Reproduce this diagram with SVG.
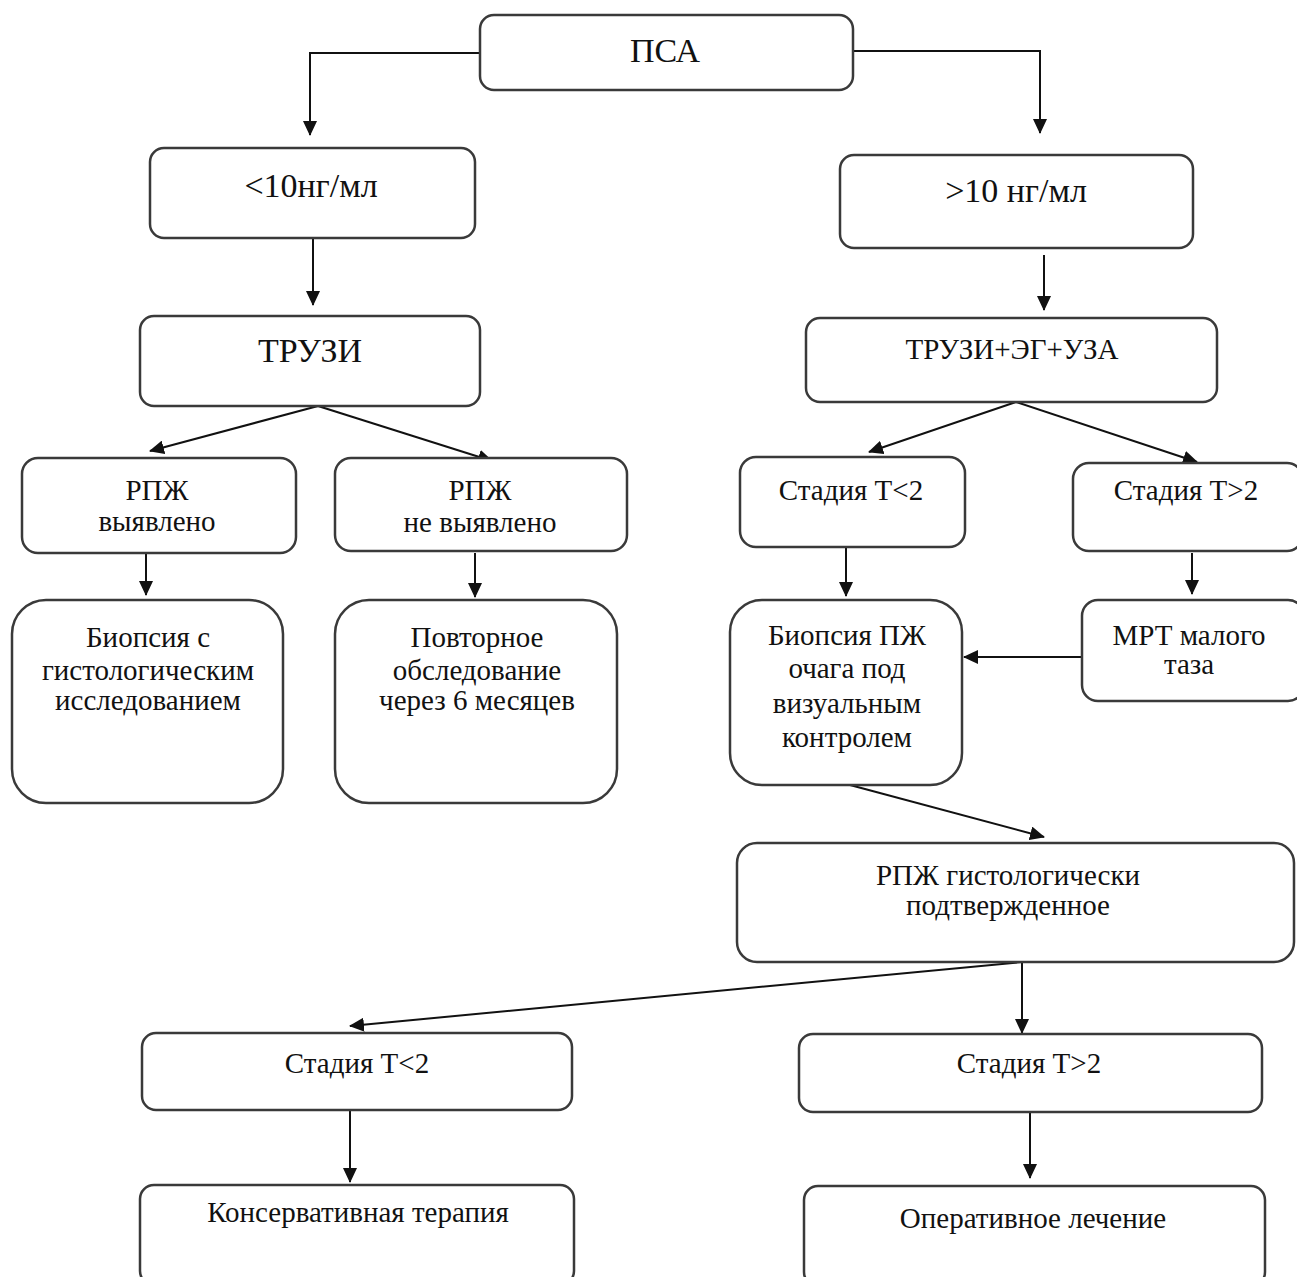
<svg xmlns="http://www.w3.org/2000/svg" width="1297" height="1277" viewBox="0 0 1297 1277">
<style>
.box{fill:#fff;stroke:#3a3a3a;stroke-width:2.5}
.t{font-family:"Liberation Serif","Times New Roman",serif;font-size:29px;fill:#111;text-anchor:middle}
.big{font-size:34px}
.c{stroke:#111;stroke-width:2;fill:none}
</style>
<defs>
<marker id="ah" viewBox="0 0 15 14" refX="14" refY="7" markerWidth="15" markerHeight="14" markerUnits="userSpaceOnUse" orient="auto">
<path d="M0,0 L15,7 L0,14 Z" fill="#111"/>
</marker>
</defs>
<rect width="1297" height="1277" fill="#fff"/>
<g id="connectors">
<path class="c" d="M480,53 H310 V135" marker-end="url(#ah)"/>
<path class="c" d="M853,51 H1040 V133" marker-end="url(#ah)"/>
<path class="c" d="M313,238 V305" marker-end="url(#ah)"/>
<path class="c" d="M1044,255 V310" marker-end="url(#ah)"/>
<path class="c" d="M318,406 L150,451" marker-end="url(#ah)"/>
<path class="c" d="M318,406 L492,461" marker-end="url(#ah)"/>
<path class="c" d="M146,553 V595" marker-end="url(#ah)"/>
<path class="c" d="M475,553 V597" marker-end="url(#ah)"/>
<path class="c" d="M1016,402 L869,452" marker-end="url(#ah)"/>
<path class="c" d="M1016,402 L1197,462" marker-end="url(#ah)"/>
<path class="c" d="M846,547 V596" marker-end="url(#ah)"/>
<path class="c" d="M1192,553 V594" marker-end="url(#ah)"/>
<path class="c" d="M1082,657 H964" marker-end="url(#ah)"/>
<path class="c" d="M850,785 L1044,837" marker-end="url(#ah)"/>
<path class="c" d="M1022,962 L350,1026" marker-end="url(#ah)"/>
<path class="c" d="M1022,962 V1033" marker-end="url(#ah)"/>
<path class="c" d="M350,1110 V1182" marker-end="url(#ah)"/>
<path class="c" d="M1030,1112 V1178" marker-end="url(#ah)"/>
</g>
<g id="psa"><rect class="box" x="480" y="15" width="373" height="75" rx="14"/><text class="t big" x="665" y="62">ПСА</text></g>
<g id="lt10"><rect class="box" x="150" y="148" width="325" height="90" rx="14"/><text class="t big" x="311" y="197">&lt;10нг/мл</text></g>
<g id="gt10"><rect class="box" x="840" y="155" width="353" height="93" rx="14"/><text class="t big" x="1016" y="202">&gt;10 нг/мл</text></g>
<g id="truzi"><rect class="box" x="140" y="316" width="340" height="90" rx="14"/><text class="t big" x="310" y="362">ТРУЗИ</text></g>
<g id="truzi2"><rect class="box" x="806" y="318" width="411" height="84" rx="14"/><text class="t" x="1012" y="359">ТРУЗИ+ЭГ+УЗА</text></g>
<g id="rpzh-yes"><rect class="box" x="22" y="458" width="274" height="95" rx="16"/><text class="t" x="157" y="500">РПЖ</text><text class="t" x="157" y="531">выявлено</text></g>
<g id="rpzh-no"><rect class="box" x="335" y="458" width="292" height="93" rx="16"/><text class="t" x="480" y="500">РПЖ</text><text class="t" x="480" y="532">не выявлено</text></g>
<g id="stage-lt2-a"><rect class="box" x="740" y="457" width="225" height="90" rx="16"/><text class="t" x="851" y="500">Стадия Т&lt;2</text></g>
<g id="stage-gt2-a"><rect class="box" x="1073" y="463" width="230" height="88" rx="16"/><text class="t" x="1186" y="500">Стадия Т&gt;2</text></g>
<g id="biopsy1"><rect class="box" x="12" y="600" width="271" height="203" rx="34"/><text class="t" x="148" y="647">Биопсия с</text><text class="t" x="148" y="680">гистологическим</text><text class="t" x="148" y="710">исследованием</text></g>
<g id="repeat"><rect class="box" x="335" y="600" width="282" height="203" rx="34"/><text class="t" x="477" y="647">Повторное</text><text class="t" x="477" y="680">обследование</text><text class="t" x="477" y="710">через 6 месяцев</text></g>
<g id="biopsy2"><rect class="box" x="730" y="600" width="232" height="185" rx="32"/><text class="t" x="847" y="645">Биопсия ПЖ</text><text class="t" x="847" y="678">очага под</text><text class="t" x="847" y="713">визуальным</text><text class="t" x="847" y="747">контролем</text></g>
<g id="mrt"><rect class="box" x="1082" y="600" width="222" height="101" rx="16"/><text class="t" x="1189" y="645">МРТ малого</text><text class="t" x="1189" y="674">таза</text></g>
<g id="confirmed"><rect class="box" x="737" y="843" width="557" height="119" rx="20"/><text class="t" x="1008" y="885">РПЖ гистологически</text><text class="t" x="1008" y="915">подтвержденное</text></g>
<g id="stage-lt2-b"><rect class="box" x="142" y="1033" width="430" height="77" rx="14"/><text class="t" x="357" y="1073">Стадия Т&lt;2</text></g>
<g id="stage-gt2-b"><rect class="box" x="799" y="1034" width="463" height="78" rx="14"/><text class="t" x="1029" y="1073">Стадия Т&gt;2</text></g>
<g id="conservative"><rect class="box" x="140" y="1185" width="434" height="100" rx="14"/><text class="t" x="358" y="1222">Консервативная терапия</text></g>
<g id="surgery"><rect class="box" x="804" y="1186" width="461" height="100" rx="14"/><text class="t" x="1033" y="1228">Оперативное лечение</text></g>
</svg>
